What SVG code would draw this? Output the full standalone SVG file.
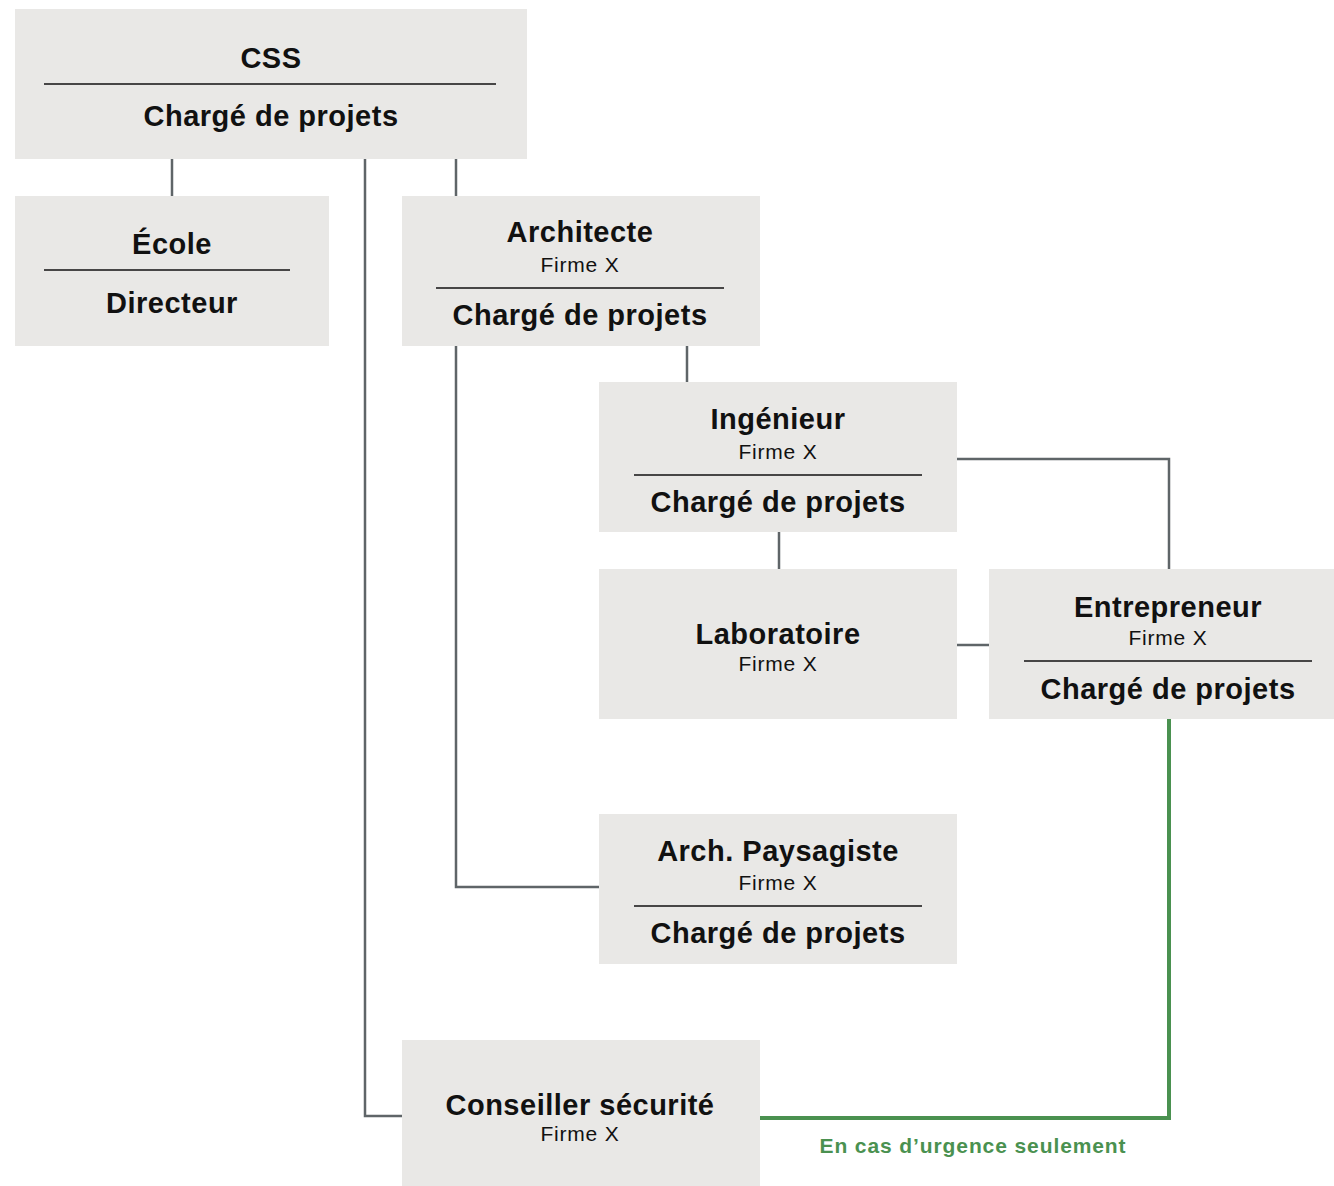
<svg xmlns="http://www.w3.org/2000/svg" width="1334" height="1186" viewBox="0 0 1334 1186">
<style>
.box{fill:#e9e8e6}
.div{stroke:#111;stroke-width:1.5}
.t{font-family:"Liberation Sans",Arial,sans-serif;font-weight:bold;font-size:29px;letter-spacing:0.5px;fill:#111;text-anchor:middle}
.s{font-family:"Liberation Sans",Arial,sans-serif;font-size:21px;letter-spacing:0.8px;fill:#111;text-anchor:middle}
.c{fill:none;stroke:#5f6568;stroke-width:2.5}
.g{fill:none;stroke:#4a9150;stroke-width:4}
.gl{font-family:"Liberation Sans",Arial,sans-serif;font-weight:bold;font-size:21px;letter-spacing:0.9px;fill:#4a9150;text-anchor:middle}
</style>
<rect width="1334" height="1186" fill="#fff"/>
<g id="connectors">
<path class="c" d="M172 159V196"/>
<path class="c" d="M365 159V1116H402"/>
<path class="c" d="M456 159V196"/>
<path class="c" d="M456 346V887H599"/>
<path class="c" d="M687 346V382"/>
<path class="c" d="M779 532V569"/>
<path class="c" d="M957 459H1169V569"/>
<path class="c" d="M957 645H989"/>
<path class="g" d="M1169 719V1118H760"/>
<text class="gl" x="973" y="1153">En cas d’urgence seulement</text>
</g>
<g id="css">
<rect class="box" x="15" y="9" width="512" height="150"/>
<text class="t" x="271" y="68">CSS</text>
<line class="div" x1="44" y1="84" x2="496" y2="84"/>
<text class="t" x="271" y="126">Chargé de projets</text>
</g>
<g id="ecole">
<rect class="box" x="15" y="196" width="314" height="150"/>
<text class="t" x="172" y="254">École</text>
<line class="div" x1="44" y1="270" x2="290" y2="270"/>
<text class="t" x="172" y="313">Directeur</text>
</g>
<g id="architecte">
<rect class="box" x="402" y="196" width="358" height="150"/>
<text class="t" x="580" y="242">Architecte</text>
<text class="s" x="580" y="272">Firme X</text>
<line class="div" x1="436" y1="288" x2="724" y2="288"/>
<text class="t" x="580" y="325">Chargé de projets</text>
</g>
<g id="ingenieur">
<rect class="box" x="599" y="382" width="358" height="150"/>
<text class="t" x="778" y="429">Ingénieur</text>
<text class="s" x="778" y="459">Firme X</text>
<line class="div" x1="634" y1="475" x2="922" y2="475"/>
<text class="t" x="778" y="512">Chargé de projets</text>
</g>
<g id="laboratoire">
<rect class="box" x="599" y="569" width="358" height="150"/>
<text class="t" x="778" y="644">Laboratoire</text>
<text class="s" x="778" y="671">Firme X</text>
</g>
<g id="entrepreneur">
<rect class="box" x="989" y="569" width="345" height="150"/>
<text class="t" x="1168" y="617">Entrepreneur</text>
<text class="s" x="1168" y="645">Firme X</text>
<line class="div" x1="1024" y1="661" x2="1312" y2="661"/>
<text class="t" x="1168" y="699">Chargé de projets</text>
</g>
<g id="paysagiste">
<rect class="box" x="599" y="814" width="358" height="150"/>
<text class="t" x="778" y="861">Arch. Paysagiste</text>
<text class="s" x="778" y="890">Firme X</text>
<line class="div" x1="634" y1="906" x2="922" y2="906"/>
<text class="t" x="778" y="943">Chargé de projets</text>
</g>
<g id="conseiller">
<rect class="box" x="402" y="1040" width="358" height="146"/>
<text class="t" x="580" y="1115">Conseiller sécurité</text>
<text class="s" x="580" y="1141">Firme X</text>
</g>
</svg>
